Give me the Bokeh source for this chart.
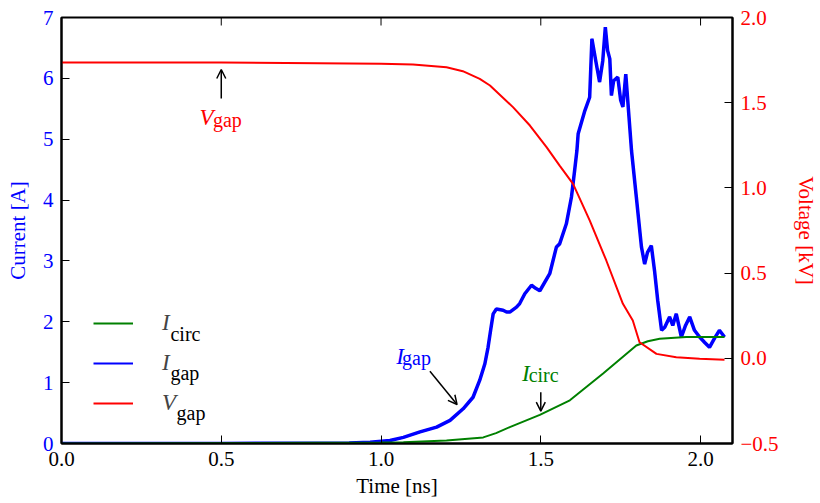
from math import pi
from bokeh.plotting import figure
from bokeh.models import (Range1d, LinearAxis, FixedTicker, PrintfTickFormatter,
                          CustomJSTickFormatter, Legend, LegendItem, Label, Arrow, OpenHead)
from bokeh.embed import file_html
from bokeh.resources import INLINE

# ---- data ----
t_circ = [0.0, 1.0, 1.070, 1.205, 1.320, 1.360, 1.403, 1.497, 1.591, 1.695, 1.799, 1.835, 1.872, 1.955, 2.075]
i_circ = [0.0, 0.015, 0.02, 0.05, 0.10, 0.17, 0.27, 0.47, 0.71, 1.15, 1.61, 1.68, 1.72, 1.75, 1.75]

t_gap = [0.0, 0.5, 0.9, 0.966, 1.028, 1.070, 1.122, 1.174, 1.216, 1.257, 1.288, 1.309, 1.325,
         1.335, 1.343, 1.351, 1.361, 1.382, 1.393, 1.403, 1.424, 1.434, 1.450, 1.471, 1.484,
         1.497, 1.528, 1.549, 1.559, 1.580, 1.596, 1.606, 1.613, 1.617, 1.638, 1.653, 1.660,
         1.672, 1.684, 1.694, 1.702, 1.709, 1.716, 1.721, 1.728, 1.741, 1.750, 1.757, 1.766,
         1.784, 1.799, 1.815, 1.825, 1.834, 1.846, 1.856, 1.866, 1.878, 1.888, 1.903, 1.913,
         1.924, 1.940, 1.953, 1.966, 1.981, 1.997, 2.013, 2.028, 2.044, 2.059, 2.075]
i_gap = [0.0, 0.0, 0.01, 0.02, 0.05, 0.10, 0.19, 0.27, 0.38, 0.57, 0.76, 1.04, 1.31,
         1.58, 1.86, 2.13, 2.21, 2.19, 2.16, 2.16, 2.24, 2.30, 2.46, 2.60, 2.55,
         2.51, 2.79, 3.23, 3.28, 3.61, 4.05, 4.49, 4.81, 5.09, 5.47, 5.69, 6.65,
         6.29, 5.94, 6.29, 6.84, 6.46, 6.32, 5.72, 5.96, 6.02, 5.64, 5.53, 6.07,
         4.81, 4.05, 3.23, 2.95, 3.14, 3.25, 2.84, 2.35, 1.86, 1.91, 2.08, 1.94,
         2.13, 1.75, 1.94, 2.08, 1.86, 1.75, 1.66, 1.58, 1.73, 1.86, 1.75]

t_v = [0.0, 0.5, 1.0, 1.1, 1.205, 1.256, 1.309, 1.341, 1.413, 1.466, 1.518, 1.559, 1.601, 1.653,
       1.705, 1.757, 1.788, 1.809, 1.862, 1.924, 1.997, 2.075]
v_gap = [1.736, 1.736, 1.728, 1.724, 1.708, 1.685, 1.640, 1.601, 1.474, 1.366, 1.239, 1.131, 1.024,
         0.809, 0.574, 0.320, 0.222, 0.094, 0.026, 0.006, -0.003, -0.009]

x_ticks = [0.0, 0.5, 1.0, 1.5, 2.0]
i_ticks = [0, 1, 2, 3, 4, 5, 6, 7]
v_ticks = [-0.5, 0.0, 0.5, 1.0, 1.5, 2.0]

BLUE = "#0000ff"
RED = "#ff0000"
GREEN = "#008000"
FONT = "Liberation Serif, DejaVu Serif, serif"
TICK_FS = "21px"
LBL_FS = "21px"
MAIN_FS = "23px"
SUB_FS = "20px"

p = figure(width=820, height=503, output_backend="svg", toolbar_location=None,
           x_range=Range1d(0, 2.1), y_range=Range1d(0, 7),
           min_border_left=61, min_border_right=87, min_border_top=17, min_border_bottom=60)
p.extra_y_ranges = {"v": Range1d(-0.5, 2.0)}
p.grid.visible = False
p.outline_line_color = "black"
p.outline_line_width = 2
p.background_fill_color = "white"


def style_axis(ax, color):
    ax.axis_line_color = "black"
    ax.axis_line_width = 2
    ax.major_tick_in = 8
    ax.major_tick_out = 0
    ax.minor_tick_in = 0
    ax.minor_tick_out = 0
    ax.major_tick_line_color = "black"
    ax.major_tick_line_width = 1
    ax.major_label_text_font = FONT
    ax.major_label_text_font_size = TICK_FS
    ax.major_label_text_color = color
    ax.axis_label_text_font = FONT
    ax.axis_label_text_font_size = LBL_FS
    ax.axis_label_text_font_style = "normal"
    ax.axis_label_text_color = color
    ax.major_label_standoff = 8


xa = p.xaxis[0]
style_axis(xa, "black")
xa.ticker = FixedTicker(ticks=x_ticks)
xa.formatter = PrintfTickFormatter(format="%.1f")
xa.axis_label = "Time [ns]"
xa.axis_label_standoff = 5

ya = p.yaxis[0]
style_axis(ya, BLUE)
ya.ticker = FixedTicker(ticks=i_ticks)
ya.formatter = PrintfTickFormatter(format="%d")
ya.axis_label = "Current [A]"
ya.axis_label_standoff = 10

ra = LinearAxis(y_range_name="v")
style_axis(ra, RED)
ra.ticker = FixedTicker(ticks=v_ticks)
ra.formatter = CustomJSTickFormatter(code="return tick.toFixed(1).replace('-', '\\u2212');")
ra.axis_label = "Voltage [kV]"
ra.axis_label_standoff = 12
p.add_layout(ra, "right")

# top-edge inward ticks (frame clips the upper half of each mark away)
p.scatter(x_ticks, [7] * len(x_ticks), marker="dash", angle=pi / 2, size=16,
          line_color="black", line_width=1)

# ---- lines ----
r_gap = p.line(t_gap, i_gap, line_color=BLUE, line_width=3.5)
r_gap_key = p.line(t_gap, i_gap, line_color=BLUE, line_width=2)
r_circ = p.line(t_circ, i_circ, line_color=GREEN, line_width=2)
r_v = p.line(t_v, v_gap, line_color=RED, line_width=2, y_range_name="v")

legend = Legend(items=[LegendItem(label="I", renderers=[r_circ]),
                       LegendItem(label="I", renderers=[r_gap_key]),
                       LegendItem(label="V", renderers=[r_v])],
                location=(32, 20), padding=0, margin=0, spacing=0,
                glyph_width=40, glyph_height=40, label_height=40, label_standoff=29,
                border_line_color=None, background_fill_alpha=0,
                label_text_font=FONT, label_text_font_size=MAIN_FS,
                label_text_font_style="italic")
p.add_layout(legend, "center")


def lab(x, y, text, color, size, italic=False):
    p.add_layout(Label(x=x, y=y, text=text, text_color=color, text_font=FONT,
                       text_font_size=size, text_font_style="italic" if italic else "normal",
                       text_baseline="alphabetic", text_align="left"))


# legend subscripts
lab(0.341, 1.80, "circ", "black", SUB_FS)
lab(0.341, 1.16, "gap", "black", SUB_FS)
lab(0.360, 0.50, "gap", "black", SUB_FS)

# in-plot annotations
lab(0.432, 5.35, "V", RED, MAIN_FS, italic=True)
lab(0.474, 5.32, "gap", RED, SUB_FS)
lab(1.048, 1.43, "I", BLUE, MAIN_FS, italic=True)
lab(1.066, 1.41, "gap", BLUE, SUB_FS)
lab(1.441, 1.15, "I", GREEN, MAIN_FS, italic=True)
lab(1.462, 1.13, "circ", GREEN, SUB_FS)

for (x0, y0, x1, y1) in [(0.5, 5.669, 0.5, 6.145),
                         (1.153, 1.188, 1.238, 0.64),
                         (1.5, 0.843, 1.5, 0.531)]:
    p.add_layout(Arrow(end=OpenHead(size=9, line_width=1.5, line_color="black"),
                       x_start=x0, y_start=y0, x_end=x1, y_end=y1,
                       line_width=1.5, line_color="black"))

open("out.html", "w").write(file_html(p, INLINE))
